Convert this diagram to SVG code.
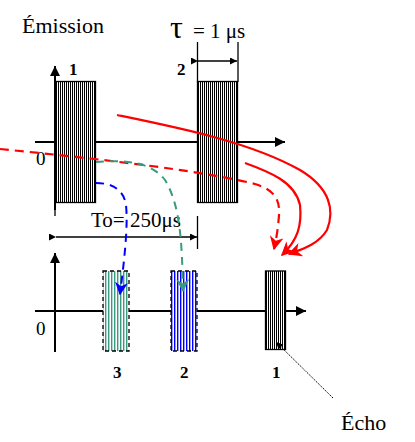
<svg xmlns="http://www.w3.org/2000/svg" width="415" height="442" viewBox="0 0 415 442">
<defs>
<pattern id="hBlack" width="2" height="4" patternUnits="userSpaceOnUse"><rect width="2" height="4" fill="#fff"/><rect x="0" width="1" height="4" fill="#000"/></pattern>
<pattern id="hGreen" width="3" height="4" patternUnits="userSpaceOnUse"><rect width="3" height="4" fill="#fff"/><rect x="0" width="1.4" height="4" fill="#3a9a7e"/></pattern>
<pattern id="hBlue" width="3" height="4" patternUnits="userSpaceOnUse"><rect width="3" height="4" fill="#fff"/><rect x="0" width="1.4" height="4" fill="#0000ff"/></pattern>
<marker id="aBlk" viewBox="0 0 10 10" refX="10" refY="5" markerWidth="10" markerHeight="10" markerUnits="userSpaceOnUse" orient="auto-start-reverse"><path d="M0,0 L10,5 L0,10 Z" fill="#000"/></marker>
<marker id="aSm" viewBox="0 0 10 10" refX="10" refY="5" markerWidth="8" markerHeight="7" markerUnits="userSpaceOnUse" orient="auto"><path d="M0,0 L10,5 L0,10 Z" fill="#000"/></marker>
<marker id="aRed" viewBox="0 0 10 10" refX="9" refY="5" markerWidth="14" markerHeight="14" markerUnits="userSpaceOnUse" orient="auto"><path d="M0,0 L10,5 L0,10 L3,5 Z" fill="#ff0000"/></marker>
<marker id="aBlue" viewBox="0 0 10 10" refX="9" refY="5" markerWidth="13" markerHeight="13" markerUnits="userSpaceOnUse" orient="auto"><path d="M0,0 L10,5 L0,10 L3,5 Z" fill="#0000ff"/></marker>
<marker id="aGreen" viewBox="0 0 10 10" refX="9" refY="5" markerWidth="13" markerHeight="13" markerUnits="userSpaceOnUse" orient="auto"><path d="M0,0 L10,5 L0,10 L3,5 Z" fill="#3a9a7e"/></marker>
</defs>
<style>
.t{font-family:"Liberation Serif","Times New Roman",serif;fill:#000}
.ax{stroke:#000;stroke-width:2;fill:none}
.ln{stroke:#000;stroke-width:1.3;fill:none}
.red{stroke:#ff0000;stroke-width:2.2;fill:none}
.dash{stroke-dasharray:9,6}
</style>

<g id="emission-axes">
<line class="ax" x1="55" y1="66" x2="55" y2="210" marker-start="url(#aBlk)"/>
<line class="ax" x1="35" y1="142" x2="285" y2="142" marker-end="url(#aBlk)"/>
<text class="t" x="22" y="33" font-size="22">Émission</text>
<text class="t" x="36" y="165" font-size="19">0</text>
</g>

<g id="pulse-e1">
<rect x="55.5" y="81.5" width="40" height="121" fill="url(#hBlack)" stroke="#000" stroke-width="1.3"/>
<text class="t" x="69" y="75" font-size="17" font-weight="bold">1</text>
</g>

<g id="pulse-e2">
<rect x="197.5" y="81.5" width="40" height="121" fill="url(#hBlack)" stroke="#000" stroke-width="1.3"/>
<text class="t" x="177" y="75" font-size="17" font-weight="bold">2</text>
</g>

<g id="tau">
<line class="ln" x1="197.5" y1="42" x2="197.5" y2="82"/>
<line class="ln" x1="238" y1="42" x2="238" y2="82"/>
<line class="ln" x1="198" y1="61" x2="237" y2="61" marker-start="url(#aSm)" marker-end="url(#aSm)"/>
<text class="t" x="170" y="38" font-size="32">τ</text>
<text class="t" x="193" y="38" font-size="21">= 1 μs</text>
</g>

<g id="period">
<line class="ln" x1="55" y1="203" x2="55" y2="216"/>
<line class="ln" x1="197.5" y1="216" x2="197.5" y2="249"/>
<line class="ln" x1="56" y1="237" x2="197" y2="237" marker-start="url(#aSm)" marker-end="url(#aSm)"/>
<text class="t" x="91" y="227" font-size="21">To= 250μs</text>
</g>

<g id="echo-axes">
<line class="ax" x1="55" y1="253" x2="55" y2="352" marker-start="url(#aBlk)"/>
<line class="ax" x1="35" y1="311" x2="306" y2="311" marker-end="url(#aBlk)"/>
<text class="t" x="36" y="335" font-size="19">0</text>
</g>

<g id="echo-3">
<rect x="103" y="271" width="26" height="80" fill="url(#hGreen)" stroke="#000" stroke-width="1.3" stroke-dasharray="4,3"/>
<text class="t" x="113" y="378" font-size="17" font-weight="bold">3</text>
</g>

<g id="echo-2">
<rect x="171" y="271" width="26" height="80" fill="url(#hBlue)" stroke="#000" stroke-width="1.3" stroke-dasharray="4,3"/>
<text class="t" x="180" y="378" font-size="17" font-weight="bold">2</text>
</g>

<g id="echo-1">
<rect x="265.5" y="271" width="20" height="78.5" fill="url(#hBlack)" stroke="#000" stroke-width="1.3"/>
<text class="t" x="272" y="378" font-size="17" font-weight="bold">1</text>
</g>

<g id="echo-label">
<text class="t" x="341" y="430" font-size="22">Écho</text>
</g>

<g id="connectors">
<line x1="333" y1="398" x2="276" y2="342" stroke="#000" stroke-width="1" stroke-dasharray="1.5,1" marker-end="url(#aSm)"/>
<path class="red" d="M117,115 C180,128 250,142 300,170 C330,188 335,210 327,230 C318,245 300,250 289,254" marker-end="url(#aRed)"/>
<path class="red" d="M245,163 C270,172 295,182 300,205 C302,225 298,240 282,255" marker-end="url(#aRed)"/>
<path class="red dash" d="M0,149 C90,158 200,170 255,184 C275,190 280,200 279,215 C278,230 276,240 274,249" marker-end="url(#aRed)"/>
<path d="M96,183 C115,183 124,192 126,205 C128,225 125,255 120,294" stroke="#0000ff" stroke-width="2" fill="none" stroke-dasharray="8,6" marker-end="url(#aBlue)"/>
<path d="M96,162 C120,160 150,160 165,180 C180,205 182,240 183,291" stroke="#3a9a7e" stroke-width="2" fill="none" stroke-dasharray="8,6" marker-end="url(#aGreen)"/>
</g>
</svg>
